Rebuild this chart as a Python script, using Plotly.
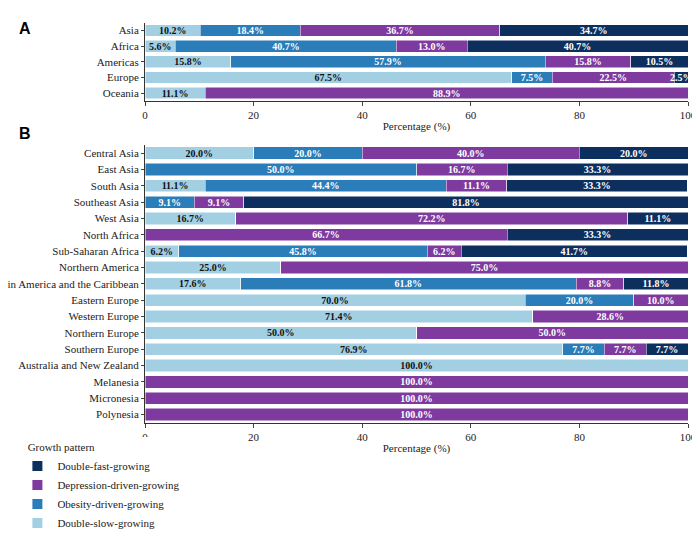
import plotly.graph_objects as go

series = ["Double-slow-growing", "Obesity-driven-growing", "Depression-driven-growing", "Double-fast-growing"]
colors = ["#a3cfe3", "#2a7db8", "#7e3a9e", "#0d2f5e"]
txtcol = ["#111111", "white", "white", "white"]

a_cats = ["Asia", "Africa", "Americas", "Europe", "Oceania"]
a_vals = [
    [10.2, 5.6, 15.8, 67.5, 11.1],
    [18.4, 40.7, 57.9, 7.5, 0],
    [36.7, 13.0, 15.8, 22.5, 88.9],
    [34.7, 40.7, 10.5, 2.5, 0],
]
b_cats = ["Central Asia", "East Asia", "South Asia", "Southeast Asia", "West Asia", "North Africa",
          "Sub-Saharan Africa", "Northern America", "Latin America and the Caribbean", "Eastern Europe",
          "Western Europe", "Northern Europe", "Southern Europe", "Australia and New Zealand",
          "Melanesia", "Micronesia", "Polynesia"]
b_vals = [
    [20.0, 0, 11.1, 0, 16.7, 0, 6.2, 25.0, 17.6, 70.0, 71.4, 50.0, 76.9, 100.0, 0, 0, 0],
    [20.0, 50.0, 44.4, 9.1, 0, 0, 45.8, 0, 61.8, 20.0, 0, 0, 7.7, 0, 0, 0, 0],
    [40.0, 16.7, 11.1, 9.1, 72.2, 66.7, 6.2, 75.0, 8.8, 10.0, 28.6, 50.0, 7.7, 0, 100.0, 100.0, 100.0],
    [20.0, 33.3, 33.3, 81.8, 11.1, 33.3, 41.7, 0, 11.8, 0, 0, 0, 7.7, 0, 0, 0, 0],
]

fig = go.Figure()
for i, s in enumerate(series):
    for cats, vals, xa, ya, show in [(a_cats, a_vals, "x", "y", True), (b_cats, b_vals, "x2", "y2", False)]:
        v = vals[i]
        fig.add_trace(go.Bar(
            y=cats, x=v, orientation="h", name=s, marker=dict(color=colors[i], line=dict(color="white", width=0.5)),
            text=[f"<b>{x:.1f}%</b>" if x > 0 else "" for x in v], textposition="inside", insidetextanchor="middle",
            textfont=dict(color=txtcol[i], size=10, family="Liberation Serif"), textangle=0,
            constraintext="none", xaxis=xa, yaxis=ya, showlegend=show, legendgroup=s, width=0.75))

font = dict(family="Liberation Serif", size=11, color="#222")
axx = dict(range=[0, 100], tickvals=[0, 20, 40, 60, 80, 100], showgrid=False, showline=True, linecolor="#333",
           ticks="outside", ticklen=4, title=dict(text="Percentage (%)", font=font, standoff=2), tickfont=font,
           automargin=False)
yax = dict(showline=True, linecolor="#333", ticks="outside", ticklen=3, tickfont=font, automargin=False,
           categoryorder="array")
fig.update_layout(
    width=700, height=540, plot_bgcolor="white", paper_bgcolor="white", barmode="stack",
    margin=dict(l=135, r=20, t=10, b=10), font=font, bargap=0.25,
    xaxis=dict(axx, domain=[0, 1], anchor="y"),
    yaxis=dict(yax, domain=[0.827, 0.99], categoryarray=a_cats[::-1], anchor="x"),
    xaxis2=dict(axx, domain=[0, 1], anchor="y2"),
    yaxis2=dict(yax, domain=[0.155, 0.735], categoryarray=b_cats[::-1], anchor="x2"),
    legend=dict(x=-0.235, y=0.125, xanchor="left", yanchor="top", traceorder="reversed",
                title=dict(text="   Growth pattern", font=font), font=font, itemwidth=30,
                tracegroupgap=0, itemsizing="constant"),
    annotations=[
        dict(text="<b>A</b>", x=-0.235, y=1.0, xref="paper", yref="paper", showarrow=False,
             font=dict(family="Liberation Sans", size=16, color="black"), xanchor="left"),
        dict(text="<b>B</b>", x=-0.235, y=0.78, xref="paper", yref="paper", showarrow=False,
             font=dict(family="Liberation Sans", size=16, color="black"), xanchor="left"),
    ],
)
fig.write_html("out.html")
